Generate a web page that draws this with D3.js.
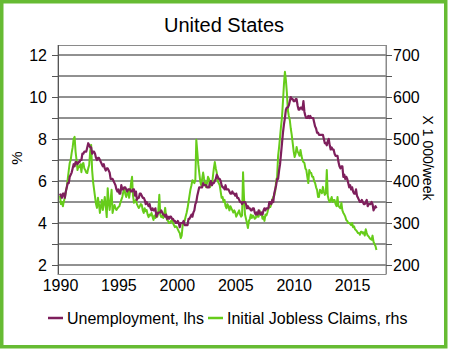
<!DOCTYPE html>
<html>
<head>
<meta charset="utf-8">
<script src="https://cdn.jsdelivr.net/npm/d3@7/dist/d3.min.js"></script>
<style>
  html, body { margin: 0; padding: 0; background: #fff; }
  svg { display: block; font-family: "Liberation Sans", Arial, sans-serif; }
</style>
</head>
<body>
<svg id="chart" width="450" height="350"></svg>
<script>
// Monthly series, starting January 1990
const startYear = 1990;

// Unemployment rate, % (left axis)
const unemploymentRate = [
  5.4,5.3,5.2,5.4,5.4,5.2,5.5,5.7,5.9,5.9,6.2,6.3,
  6.4,6.6,6.8,6.7,6.9,6.9,6.8,6.9,6.9,7.0,7.0,7.3,
  7.3,7.4,7.4,7.4,7.6,7.8,7.7,7.6,7.6,7.3,7.4,7.4,
  7.3,7.1,7.0,7.1,7.1,7.0,6.9,6.8,6.7,6.8,6.6,6.5,
  6.6,6.6,6.5,6.4,6.1,6.1,6.1,6.0,5.9,5.8,5.6,5.5,
  5.6,5.4,5.4,5.8,5.6,5.6,5.7,5.7,5.6,5.5,5.6,5.6,
  5.6,5.5,5.5,5.6,5.6,5.3,5.5,5.1,5.2,5.2,5.4,5.4,
  5.3,5.2,5.2,5.1,4.9,5.0,4.9,4.8,4.9,4.7,4.6,4.7,
  4.6,4.6,4.7,4.3,4.4,4.5,4.5,4.5,4.6,4.5,4.4,4.4,
  4.3,4.4,4.2,4.3,4.2,4.3,4.3,4.2,4.2,4.1,4.1,4.0,
  4.0,4.1,4.0,3.8,4.0,4.0,4.0,4.1,3.9,3.9,3.9,3.9,
  4.2,4.2,4.3,4.4,4.3,4.5,4.6,4.9,5.0,5.3,5.5,5.7,
  5.7,5.7,5.7,5.9,5.8,5.8,5.8,5.7,5.7,5.7,5.9,6.0,
  5.8,5.9,5.9,6.0,6.1,6.3,6.2,6.1,6.1,6.0,5.8,5.7,
  5.7,5.6,5.8,5.6,5.6,5.6,5.5,5.4,5.4,5.5,5.4,5.4,
  5.3,5.4,5.2,5.2,5.1,5.0,5.0,4.9,5.0,5.0,5.0,4.9,
  4.7,4.8,4.7,4.7,4.6,4.6,4.7,4.7,4.5,4.4,4.5,4.4,
  4.6,4.5,4.4,4.5,4.4,4.6,4.7,4.6,4.7,4.7,4.7,5.0,
  5.0,4.9,5.1,5.0,5.4,5.6,5.8,6.1,6.1,6.5,6.8,7.3,
  7.8,8.3,8.7,9.0,9.4,9.5,9.5,9.6,9.8,10.0,9.9,9.9,
  9.8,9.8,9.9,9.9,9.6,9.4,9.4,9.5,9.5,9.4,9.8,9.3,
  9.1,9.0,9.0,9.1,9.0,9.1,9.0,9.0,9.0,8.8,8.6,8.5,
  8.3,8.3,8.2,8.2,8.2,8.2,8.2,8.0,7.8,7.8,7.7,7.9,
  8.0,7.7,7.5,7.6,7.5,7.5,7.3,7.2,7.2,7.2,6.9,6.7,
  6.6,6.7,6.7,6.2,6.3,6.1,6.2,6.1,5.9,5.7,5.8,5.6,
  5.7,5.5,5.4,5.4,5.6,5.3,5.2,5.1,5.0,5.0,5.1,5.0,
  4.9,4.9,5.0,5.1,4.8,4.9,4.9,4.9,5.0,4.9,4.6,4.7,
  4.8,4.7
];

// Initial jobless claims, thousands per week (right axis)
const joblessClaims = [
  365,345,350,340,352,360,375,386,405,425,443,450,
  467,480,500,505,470,450,426,435,433,440,421,440,
  443,430,426,420,419,430,438,470,486,426,398,380,
  362,345,336,360,345,324,340,355,331,345,362,340,
  314,383,350,331,355,379,324,335,343,335,331,335,
  338,340,348,355,362,374,383,370,362,370,379,360,
  375,395,410,365,348,352,355,345,340,336,340,345,
  343,330,324,335,328,331,320,314,320,318,324,315,
  307,318,312,319,315,330,367,320,314,318,312,320,
  336,315,307,305,300,300,305,307,300,295,290,292,
  290,285,280,276,264,270,295,300,305,315,324,335,
  350,365,380,390,402,400,395,402,498,470,440,420,
  400,390,405,420,405,395,385,395,410,405,385,395,
  390,410,430,445,430,420,400,395,390,375,360,362,
  350,355,340,335,345,340,330,340,335,330,325,330,
  325,315,320,325,330,320,315,318,421,360,320,310,
  300,288,305,310,320,312,318,315,310,312,318,315,
  315,330,320,322,310,315,305,320,318,325,335,340,
  338,345,355,362,365,375,400,410,460,480,505,530,
  552,590,630,660,640,610,569,555,545,525,510,490,
  470,457,465,481,470,466,460,474,460,450,445,443,
  430,426,410,395,426,420,419,410,410,400,395,385,
  379,362,362,379,375,371,386,375,367,371,426,365,
  355,350,355,362,350,355,355,345,340,362,340,338,
  335,348,330,324,320,315,307,305,300,300,298,295,
  300,290,292,285,283,280,276,276,272,279,279,275,
  278,270,285,276,270,268,264,262,260,270,255,250,
  245,236
];

// Axis ticks and labels
const yearTicks = [1990, 1995, 2000, 2005, 2010, 2015];
const leftTicks = [2, 3, 4, 5, 6, 7, 8, 9, 10, 11, 12];
const leftLabels = [2, 4, 6, 8, 10, 12];
const rightTicks = [200, 250, 300, 350, 400, 450, 500, 550, 600, 650, 700];
const rightLabels = [200, 300, 400, 500, 600, 700];
const seriesNames = ["Unemployment, lhs", "Initial Jobless Claims, rhs"];

const colors = { unemp: "#7e1f5c", claims: "#66cc1a", frame: "#66bb33" };
const labelSize = 16;

const svg = d3.select("#chart");

// Outer frame
svg.append("rect")
  .attr("x", 1.75).attr("y", 1.75)
  .attr("width", 444).attr("height", 345)
  .attr("fill", "#fff")
  .attr("stroke", colors.frame)
  .attr("stroke-width", 3.5);

// Title
svg.append("text")
  .attr("x", 224).attr("y", 32)
  .attr("text-anchor", "middle")
  .attr("font-size", 20)
  .attr("fill", "#000")
  .text("United States");

const plot = { left: 58, right: 386, top: 45, bottom: 274 };

const x = d3.scaleLinear().domain([1989.83, 2017.9]).range([plot.left, plot.right]);
const yL = d3.scaleLinear().domain([2, 12]).range([265, 55]);
const yR = d3.scaleLinear().domain([200, 700]).range([265, 55]);

// Gridlines (one per right-axis step)
svg.append("g")
  .selectAll("line")
  .data(rightTicks)
  .join("line")
  .attr("x1", plot.left).attr("x2", plot.right)
  .attr("y1", d => yR(d)).attr("y2", d => yR(d))
  .attr("stroke", "#222")
  .attr("stroke-width", 1);

// Plot area border
svg.append("rect")
  .attr("x", plot.left).attr("y", plot.top + 0.5)
  .attr("width", plot.right - plot.left)
  .attr("height", plot.bottom - plot.top)
  .attr("fill", "none")
  .attr("stroke", "#8a8a8a")
  .attr("stroke-width", 1);

// Left axis
const leftAxis = d3.axisLeft(yL)
  .tickValues(leftTicks)
  .tickSize(6)
  .tickPadding(5)
  .tickFormat(d => leftLabels.includes(d) ? d : "");
const gL = svg.append("g")
  .attr("transform", `translate(${plot.left},0)`)
  .call(leftAxis);
gL.select(".domain").attr("d", `M0.5,${plot.top}V${plot.bottom}`).attr("stroke", "#555");
gL.selectAll(".tick line").attr("stroke", "#555");
gL.selectAll(".tick text")
  .attr("font-family", "Liberation Sans, Arial, sans-serif")
  .attr("font-size", labelSize).attr("fill", "#000");

// Right axis
const rightAxis = d3.axisRight(yR)
  .tickValues(rightTicks)
  .tickSize(6)
  .tickPadding(1)
  .tickFormat(d => rightLabels.includes(d) ? d : "");
const gR = svg.append("g")
  .attr("transform", `translate(${plot.right},0)`)
  .call(rightAxis);
gR.select(".domain").attr("d", `M0.5,${plot.top}V${plot.bottom}`).attr("stroke", "#8a8a8a");
gR.selectAll(".tick line").attr("stroke", "#555");
gR.selectAll(".tick text")
  .attr("font-family", "Liberation Sans, Arial, sans-serif")
  .attr("font-size", labelSize).attr("fill", "#000");

// Bottom axis labels
const bottomAxis = d3.axisBottom(x)
  .tickValues(yearTicks)
  .tickSize(0)
  .tickPadding(6)
  .tickFormat(d3.format("d"));
const gB = svg.append("g")
  .attr("transform", `translate(0,${plot.bottom})`)
  .call(bottomAxis);
gB.select(".domain").remove();
gB.selectAll(".tick text")
  .attr("font-family", "Liberation Sans, Arial, sans-serif")
  .attr("font-size", labelSize).attr("fill", "#000");

// Axis titles
svg.append("text")
  .attr("transform", "translate(22,158) rotate(-90)")
  .attr("text-anchor", "middle")
  .attr("font-size", 15)
  .text("%");
svg.append("text")
  .attr("transform", "translate(423,158) rotate(90)")
  .attr("text-anchor", "middle")
  .attr("font-size", 14)
  .text("X 1 000/week");

// Series
const t = i => startYear + i / 12;

const claimsLine = d3.line()
  .x((d, i) => x(t(i)))
  .y(d => yR(d));
svg.append("path")
  .datum(joblessClaims)
  .attr("fill", "none")
  .attr("stroke", colors.claims)
  .attr("stroke-width", 2)
  .attr("stroke-linejoin", "round")
  .attr("d", claimsLine);

const unempLine = d3.line()
  .x((d, i) => x(t(i)))
  .y(d => yL(d));
svg.append("path")
  .datum(unemploymentRate)
  .attr("fill", "none")
  .attr("stroke", colors.unemp)
  .attr("stroke-width", 2.2)
  .attr("stroke-linejoin", "round")
  .attr("d", unempLine);

// Legend
const legend = [
  { name: seriesNames[0], color: colors.unemp, x: 48 },
  { name: seriesNames[1], color: colors.claims, x: 208 }
];
const lg = svg.append("g");
legend.forEach(item => {
  lg.append("line")
    .attr("x1", item.x).attr("x2", item.x + 15)
    .attr("y1", 318).attr("y2", 318)
    .attr("stroke", item.color).attr("stroke-width", 2.5);
  lg.append("text")
    .attr("x", item.x + 19).attr("y", 324)
    .attr("font-size", labelSize)
    .text(item.name);
});
</script>
</body>
</html>
